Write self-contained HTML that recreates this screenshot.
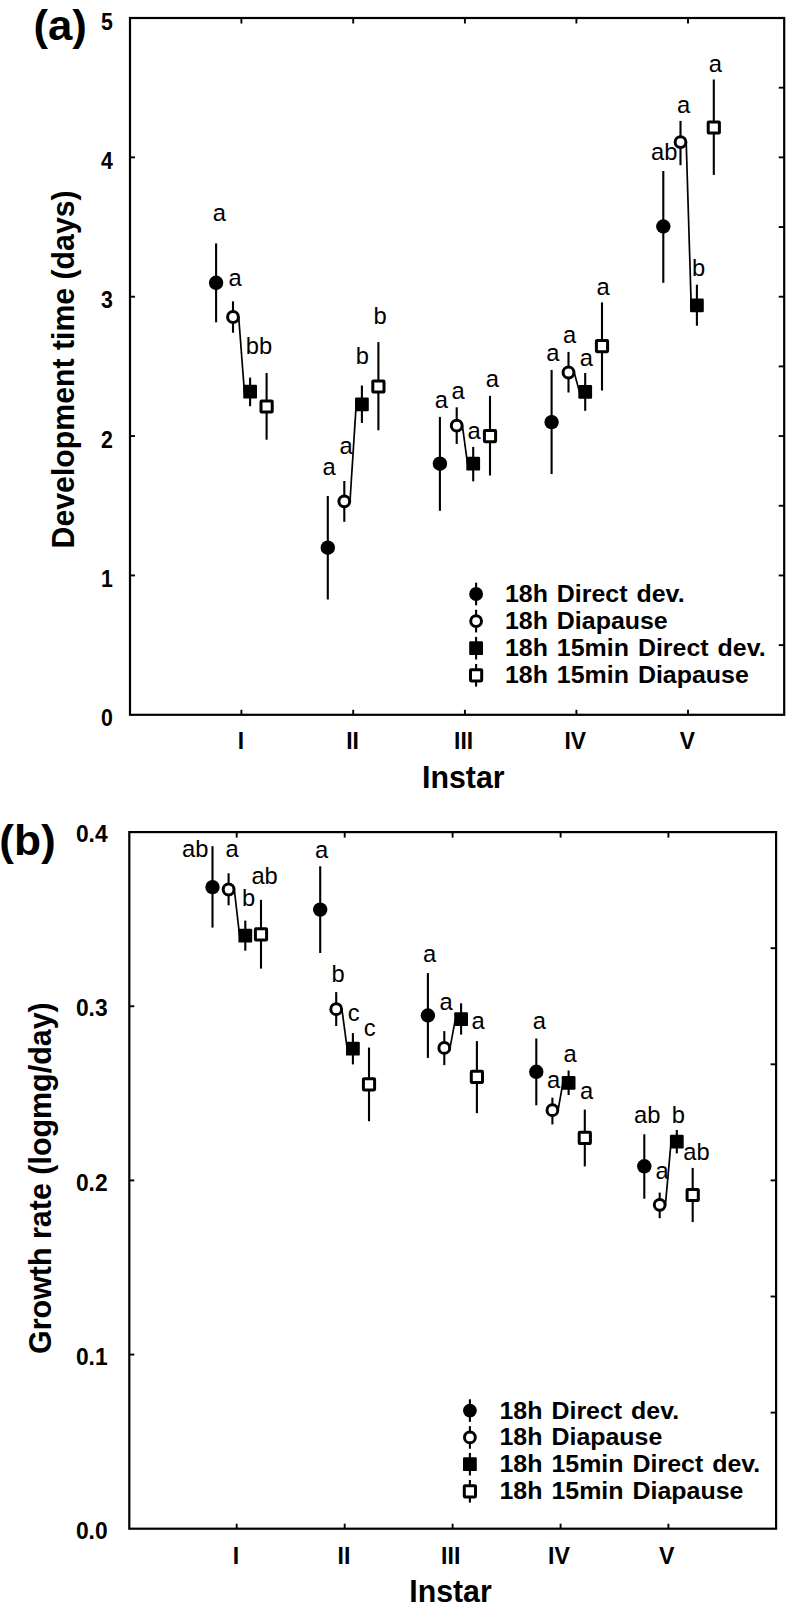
<!DOCTYPE html>
<html lang="en"><head><meta charset="utf-8"><title>Figure</title>
<style>
html,body{margin:0;padding:0;background:#fff;}
svg{display:block}
text{font-family:"Liberation Sans",sans-serif;fill:#000}
.b{font-weight:bold}
.r{font-weight:normal}
</style></head><body>
<svg width="786" height="1609" viewBox="0 0 786 1609">
<rect width="786" height="1609" fill="#fff"/>
<g id="panelA">
<rect x="130.0" y="18.0" width="654.20" height="696.80" fill="none" stroke="#000" stroke-width="2.2"/>
<line x1="130.0" y1="157.36" x2="135.0" y2="157.36" stroke="#000" stroke-width="1.9"/>
<line x1="130.0" y1="296.72" x2="135.0" y2="296.72" stroke="#000" stroke-width="1.9"/>
<line x1="130.0" y1="436.08" x2="135.0" y2="436.08" stroke="#000" stroke-width="1.9"/>
<line x1="130.0" y1="575.44" x2="135.0" y2="575.44" stroke="#000" stroke-width="1.9"/>
<line x1="784.2" y1="87.68" x2="778.7" y2="87.68" stroke="#000" stroke-width="1.9"/>
<line x1="784.2" y1="157.36" x2="778.7" y2="157.36" stroke="#000" stroke-width="1.9"/>
<line x1="784.2" y1="227.04" x2="778.7" y2="227.04" stroke="#000" stroke-width="1.9"/>
<line x1="784.2" y1="296.72" x2="778.7" y2="296.72" stroke="#000" stroke-width="1.9"/>
<line x1="784.2" y1="366.40" x2="778.7" y2="366.40" stroke="#000" stroke-width="1.9"/>
<line x1="784.2" y1="436.08" x2="778.7" y2="436.08" stroke="#000" stroke-width="1.9"/>
<line x1="784.2" y1="505.76" x2="778.7" y2="505.76" stroke="#000" stroke-width="1.9"/>
<line x1="784.2" y1="575.44" x2="778.7" y2="575.44" stroke="#000" stroke-width="1.9"/>
<line x1="784.2" y1="645.12" x2="778.7" y2="645.12" stroke="#000" stroke-width="1.9"/>
<line x1="241.4" y1="18.0" x2="241.4" y2="23.5" stroke="#000" stroke-width="1.9"/>
<line x1="241.4" y1="714.8" x2="241.4" y2="709.8" stroke="#000" stroke-width="1.9"/>
<line x1="353.2" y1="18.0" x2="353.2" y2="23.5" stroke="#000" stroke-width="1.9"/>
<line x1="353.2" y1="714.8" x2="353.2" y2="709.8" stroke="#000" stroke-width="1.9"/>
<line x1="464.9" y1="18.0" x2="464.9" y2="23.5" stroke="#000" stroke-width="1.9"/>
<line x1="464.9" y1="714.8" x2="464.9" y2="709.8" stroke="#000" stroke-width="1.9"/>
<line x1="576.4" y1="18.0" x2="576.4" y2="23.5" stroke="#000" stroke-width="1.9"/>
<line x1="576.4" y1="714.8" x2="576.4" y2="709.8" stroke="#000" stroke-width="1.9"/>
<line x1="688.0" y1="18.0" x2="688.0" y2="23.5" stroke="#000" stroke-width="1.9"/>
<line x1="688.0" y1="714.8" x2="688.0" y2="709.8" stroke="#000" stroke-width="1.9"/>
<text transform="translate(112.8,29.6)  scale(0.86,1)" text-anchor="end" font-size="24.8" class="b">5</text>
<text transform="translate(112.8,168.96)  scale(0.86,1)" text-anchor="end" font-size="24.8" class="b">4</text>
<text transform="translate(112.8,308.32)  scale(0.86,1)" text-anchor="end" font-size="24.8" class="b">3</text>
<text transform="translate(112.8,447.68)  scale(0.86,1)" text-anchor="end" font-size="24.8" class="b">2</text>
<text transform="translate(112.8,587.04)  scale(0.86,1)" text-anchor="end" font-size="24.8" class="b">1</text>
<text transform="translate(112.8,726.4)  scale(0.86,1)" text-anchor="end" font-size="24.8" class="b">0</text>
<text transform="translate(241.0,749.2)  scale(0.98,1)" text-anchor="middle" font-size="23.3" class="b">I</text>
<text transform="translate(352.5,749.2)  scale(0.98,1)" text-anchor="middle" font-size="23.3" class="b">II</text>
<text transform="translate(463.6,749.2)  scale(0.98,1)" text-anchor="middle" font-size="23.3" class="b">III</text>
<text transform="translate(575.3,749.2)  scale(0.98,1)" text-anchor="middle" font-size="23.3" class="b">IV</text>
<text transform="translate(687.3,749.2)  scale(0.98,1)" text-anchor="middle" font-size="23.3" class="b">V</text>
<text transform="translate(463.3,787.7)  scale(0.985,1)" text-anchor="middle" font-size="30.8" class="b">Instar</text>
<text transform="translate(73.5,369.4) rotate(-90) scale(0.97,1)" text-anchor="middle" font-size="31.2" class="b">Development time (days)</text>
<text transform="translate(33.4,40.1)  scale(1.03,1)" text-anchor="start" font-size="42.5" class="b">(a)</text>
<line x1="216.1" y1="243.4" x2="216.1" y2="322.3" stroke="#000" stroke-width="2.1"/>
<line x1="233" y1="301.3" x2="233" y2="332.7" stroke="#000" stroke-width="2.1"/>
<line x1="250.1" y1="377.6" x2="250.1" y2="406.2" stroke="#000" stroke-width="2.1"/>
<line x1="266.6" y1="373" x2="266.6" y2="439.7" stroke="#000" stroke-width="2.1"/>
<line x1="238.7" y1="317" x2="244.4" y2="391.7" stroke="#000" stroke-width="1.7"/>
<circle cx="216.1" cy="282.8" r="7.2" fill="#000"/>
<circle cx="233" cy="317" r="5.4" fill="#fff" stroke="#000" stroke-width="3.0"/>
<rect x="243.20" y="384.80" width="13.8" height="13.8" rx="1.2" fill="#000"/>
<rect x="261.00" y="400.90" width="11.2" height="11.2" rx="0.6" stroke-linejoin="round" fill="#fff" stroke="#000" stroke-width="3.0"/>
<line x1="327.8" y1="496" x2="327.8" y2="599.5" stroke="#000" stroke-width="2.1"/>
<line x1="344.3" y1="481" x2="344.3" y2="521.8" stroke="#000" stroke-width="2.1"/>
<line x1="361.9" y1="385.5" x2="361.9" y2="422.9" stroke="#000" stroke-width="2.1"/>
<line x1="378.4" y1="342.1" x2="378.4" y2="430.3" stroke="#000" stroke-width="2.1"/>
<line x1="350.0" y1="501.3" x2="356.2" y2="404.4" stroke="#000" stroke-width="1.7"/>
<circle cx="327.8" cy="547.7" r="7.2" fill="#000"/>
<circle cx="344.3" cy="501.3" r="5.4" fill="#fff" stroke="#000" stroke-width="3.0"/>
<rect x="355.00" y="397.50" width="13.8" height="13.8" rx="1.2" fill="#000"/>
<rect x="372.80" y="380.90" width="11.2" height="11.2" rx="0.6" stroke-linejoin="round" fill="#fff" stroke="#000" stroke-width="3.0"/>
<line x1="439.9" y1="416.9" x2="439.9" y2="510.8" stroke="#000" stroke-width="2.1"/>
<line x1="456.7" y1="407.3" x2="456.7" y2="443.9" stroke="#000" stroke-width="2.1"/>
<line x1="473.2" y1="446.9" x2="473.2" y2="481.3" stroke="#000" stroke-width="2.1"/>
<line x1="490" y1="395.8" x2="490" y2="475.5" stroke="#000" stroke-width="2.1"/>
<line x1="462.4" y1="425.6" x2="467.5" y2="463.7" stroke="#000" stroke-width="1.7"/>
<circle cx="439.9" cy="463.7" r="7.2" fill="#000"/>
<circle cx="456.7" cy="425.6" r="5.4" fill="#fff" stroke="#000" stroke-width="3.0"/>
<rect x="466.30" y="456.80" width="13.8" height="13.8" rx="1.2" fill="#000"/>
<rect x="484.40" y="430.50" width="11.2" height="11.2" rx="0.6" stroke-linejoin="round" fill="#fff" stroke="#000" stroke-width="3.0"/>
<line x1="551.6" y1="369.9" x2="551.6" y2="474" stroke="#000" stroke-width="2.1"/>
<line x1="568.5" y1="351.9" x2="568.5" y2="392.5" stroke="#000" stroke-width="2.1"/>
<line x1="585.2" y1="373" x2="585.2" y2="410.8" stroke="#000" stroke-width="2.1"/>
<line x1="602" y1="302.4" x2="602" y2="390.5" stroke="#000" stroke-width="2.1"/>
<line x1="574.2" y1="372.5" x2="579.5" y2="391.9" stroke="#000" stroke-width="1.7"/>
<circle cx="551.6" cy="422.1" r="7.2" fill="#000"/>
<circle cx="568.5" cy="372.5" r="5.4" fill="#fff" stroke="#000" stroke-width="3.0"/>
<rect x="578.30" y="385.00" width="13.8" height="13.8" rx="1.2" fill="#000"/>
<rect x="596.40" y="340.50" width="11.2" height="11.2" rx="0.6" stroke-linejoin="round" fill="#fff" stroke="#000" stroke-width="3.0"/>
<line x1="663.3" y1="171" x2="663.3" y2="282.8" stroke="#000" stroke-width="2.1"/>
<line x1="680.5" y1="120.9" x2="680.5" y2="165.2" stroke="#000" stroke-width="2.1"/>
<line x1="696.9" y1="284.7" x2="696.9" y2="325.7" stroke="#000" stroke-width="2.1"/>
<line x1="713.8" y1="79.5" x2="713.8" y2="174.9" stroke="#000" stroke-width="2.1"/>
<line x1="686.2" y1="142.1" x2="691.2" y2="305.4" stroke="#000" stroke-width="1.7"/>
<circle cx="663.3" cy="226.5" r="7.2" fill="#000"/>
<circle cx="680.5" cy="142.1" r="5.4" fill="#fff" stroke="#000" stroke-width="3.0"/>
<rect x="690.00" y="298.50" width="13.8" height="13.8" rx="1.2" fill="#000"/>
<rect x="708.20" y="121.90" width="11.2" height="11.2" rx="0.6" stroke-linejoin="round" fill="#fff" stroke="#000" stroke-width="3.0"/>
<text transform="translate(219.4,221.30) scale(0.97,1)" text-anchor="middle" font-size="24.5" class="r">a</text>
<text transform="translate(235,286.00) scale(0.97,1)" text-anchor="middle" font-size="24.5" class="r">a</text>
<text transform="translate(258.9,353.90) scale(0.97,1)" text-anchor="middle" font-size="24.5" class="r">bb</text>
<text transform="translate(329.1,475.30) scale(0.97,1)" text-anchor="middle" font-size="24.5" class="r">a</text>
<text transform="translate(346,453.50) scale(0.97,1)" text-anchor="middle" font-size="24.5" class="r">a</text>
<text transform="translate(362.3,364.30) scale(0.97,1)" text-anchor="middle" font-size="24.5" class="r">b</text>
<text transform="translate(380,324.10) scale(0.97,1)" text-anchor="middle" font-size="24.5" class="r">b</text>
<text transform="translate(441.3,408.00) scale(0.97,1)" text-anchor="middle" font-size="24.5" class="r">a</text>
<text transform="translate(458.1,398.80) scale(0.97,1)" text-anchor="middle" font-size="24.5" class="r">a</text>
<text transform="translate(474.1,439.20) scale(0.97,1)" text-anchor="middle" font-size="24.5" class="r">a</text>
<text transform="translate(492.4,387.20) scale(0.97,1)" text-anchor="middle" font-size="24.5" class="r">a</text>
<text transform="translate(552.8,361.10) scale(0.97,1)" text-anchor="middle" font-size="24.5" class="r">a</text>
<text transform="translate(569.6,342.70) scale(0.97,1)" text-anchor="middle" font-size="24.5" class="r">a</text>
<text transform="translate(586.4,366.10) scale(0.97,1)" text-anchor="middle" font-size="24.5" class="r">a</text>
<text transform="translate(603.2,294.70) scale(0.97,1)" text-anchor="middle" font-size="24.5" class="r">a</text>
<text transform="translate(664.2,159.80) scale(0.97,1)" text-anchor="middle" font-size="24.5" class="r">ab</text>
<text transform="translate(683.5,113.10) scale(0.97,1)" text-anchor="middle" font-size="24.5" class="r">a</text>
<text transform="translate(698.7,276.30) scale(0.97,1)" text-anchor="middle" font-size="24.5" class="r">b</text>
<text transform="translate(715.3,71.50) scale(0.97,1)" text-anchor="middle" font-size="24.5" class="r">a</text>
<line x1="476.1" y1="582.7" x2="476.1" y2="605.3" stroke="#000" stroke-width="2.1"/>
<line x1="476.1" y1="609.8000000000001" x2="476.1" y2="632.4" stroke="#000" stroke-width="2.1"/>
<line x1="476.1" y1="636.9000000000001" x2="476.1" y2="659.5" stroke="#000" stroke-width="2.1"/>
<line x1="476.1" y1="664.0" x2="476.1" y2="686.5999999999999" stroke="#000" stroke-width="2.1"/>
<circle cx="476.1" cy="594.0" r="6.9" fill="#000"/>
<circle cx="476.1" cy="621.1" r="5.4" fill="#fff" stroke="#000" stroke-width="3.0"/>
<rect x="469.20" y="641.30" width="13.8" height="13.8" rx="1.2" fill="#000"/>
<rect x="470.50" y="669.70" width="11.2" height="11.2" rx="0.6" stroke-linejoin="round" fill="#fff" stroke="#000" stroke-width="3.0"/>
<text transform="translate(504.9,602.0)  scale(1.031,1)" text-anchor="start" font-size="24.2" class="b" word-spacing="2.0">18h Direct dev.</text>
<text transform="translate(504.9,629.1)  scale(1.031,1)" text-anchor="start" font-size="24.2" class="b" word-spacing="2.0">18h Diapause</text>
<text transform="translate(504.9,656.2)  scale(1.031,1)" text-anchor="start" font-size="24.2" class="b" word-spacing="2.0">18h 15min Direct dev.</text>
<text transform="translate(504.9,683.3)  scale(1.031,1)" text-anchor="start" font-size="24.2" class="b" word-spacing="2.0">18h 15min Diapause</text>
</g>
<g id="panelB">
<rect x="129.3" y="832.1" width="646.80" height="696.60" fill="none" stroke="#000" stroke-width="2.2"/>
<line x1="129.3" y1="1006.25" x2="134.3" y2="1006.25" stroke="#000" stroke-width="1.9"/>
<line x1="129.3" y1="1180.40" x2="134.3" y2="1180.40" stroke="#000" stroke-width="1.9"/>
<line x1="129.3" y1="1354.55" x2="134.3" y2="1354.55" stroke="#000" stroke-width="1.9"/>
<line x1="776.1" y1="948.20" x2="770.6" y2="948.20" stroke="#000" stroke-width="1.9"/>
<line x1="776.1" y1="1064.30" x2="770.6" y2="1064.30" stroke="#000" stroke-width="1.9"/>
<line x1="776.1" y1="1180.40" x2="770.6" y2="1180.40" stroke="#000" stroke-width="1.9"/>
<line x1="776.1" y1="1296.50" x2="770.6" y2="1296.50" stroke="#000" stroke-width="1.9"/>
<line x1="776.1" y1="1412.60" x2="770.6" y2="1412.60" stroke="#000" stroke-width="1.9"/>
<line x1="236.7" y1="832.1" x2="236.7" y2="837.6" stroke="#000" stroke-width="1.9"/>
<line x1="236.7" y1="1528.7" x2="236.7" y2="1523.7" stroke="#000" stroke-width="1.9"/>
<line x1="344.7" y1="832.1" x2="344.7" y2="837.6" stroke="#000" stroke-width="1.9"/>
<line x1="344.7" y1="1528.7" x2="344.7" y2="1523.7" stroke="#000" stroke-width="1.9"/>
<line x1="452.6" y1="832.1" x2="452.6" y2="837.6" stroke="#000" stroke-width="1.9"/>
<line x1="452.6" y1="1528.7" x2="452.6" y2="1523.7" stroke="#000" stroke-width="1.9"/>
<line x1="560.6" y1="832.1" x2="560.6" y2="837.6" stroke="#000" stroke-width="1.9"/>
<line x1="560.6" y1="1528.7" x2="560.6" y2="1523.7" stroke="#000" stroke-width="1.9"/>
<line x1="668.4" y1="832.1" x2="668.4" y2="837.6" stroke="#000" stroke-width="1.9"/>
<line x1="668.4" y1="1528.7" x2="668.4" y2="1523.7" stroke="#000" stroke-width="1.9"/>
<text transform="translate(107.6,842.3)  scale(0.92,1)" text-anchor="end" font-size="24.8" class="b">0.4</text>
<text transform="translate(107.6,1016.45)  scale(0.92,1)" text-anchor="end" font-size="24.8" class="b">0.3</text>
<text transform="translate(107.6,1190.6)  scale(0.92,1)" text-anchor="end" font-size="24.8" class="b">0.2</text>
<text transform="translate(107.6,1364.75)  scale(0.92,1)" text-anchor="end" font-size="24.8" class="b">0.1</text>
<text transform="translate(107.6,1538.9)  scale(0.92,1)" text-anchor="end" font-size="24.8" class="b">0.0</text>
<text transform="translate(236.0,1563.9)  scale(0.94,1)" text-anchor="middle" font-size="24.6" class="b">I</text>
<text transform="translate(344.0,1563.9)  scale(0.94,1)" text-anchor="middle" font-size="24.6" class="b">II</text>
<text transform="translate(450.7,1563.9)  scale(0.94,1)" text-anchor="middle" font-size="24.6" class="b">III</text>
<text transform="translate(558.9,1563.9)  scale(0.94,1)" text-anchor="middle" font-size="24.6" class="b">IV</text>
<text transform="translate(666.8,1563.9)  scale(0.94,1)" text-anchor="middle" font-size="24.6" class="b">V</text>
<text transform="translate(450.5,1601.9)  scale(0.985,1)" text-anchor="middle" font-size="30.8" class="b">Instar</text>
<text transform="translate(51.4,1178.1) rotate(-90) scale(0.9756,1)" text-anchor="middle" font-size="31.2" class="b">Growth rate (logmg/day)</text>
<text transform="translate(-0.7,854.9)  scale(1.03,1)" text-anchor="start" font-size="43" class="b">(b)</text>
<line x1="212.5" y1="846.2" x2="212.5" y2="927.6" stroke="#000" stroke-width="2.1"/>
<line x1="228.6" y1="873.3" x2="228.6" y2="905.3" stroke="#000" stroke-width="2.1"/>
<line x1="245.3" y1="920.6" x2="245.3" y2="950.7" stroke="#000" stroke-width="2.1"/>
<line x1="261" y1="899.8" x2="261" y2="968.6" stroke="#000" stroke-width="2.1"/>
<line x1="234.3" y1="889.5" x2="239.6" y2="935.7" stroke="#000" stroke-width="1.7"/>
<circle cx="212.5" cy="887.1" r="7.2" fill="#000"/>
<circle cx="228.6" cy="889.5" r="5.4" fill="#fff" stroke="#000" stroke-width="3.0"/>
<rect x="238.40" y="928.80" width="13.8" height="13.8" rx="1.2" fill="#000"/>
<rect x="255.40" y="928.80" width="11.2" height="11.2" rx="0.6" stroke-linejoin="round" fill="#fff" stroke="#000" stroke-width="3.0"/>
<line x1="320.2" y1="866.3" x2="320.2" y2="953" stroke="#000" stroke-width="2.1"/>
<line x1="336.2" y1="992.1" x2="336.2" y2="1026" stroke="#000" stroke-width="2.1"/>
<line x1="352.9" y1="1033.1" x2="352.9" y2="1064.4" stroke="#000" stroke-width="2.1"/>
<line x1="369" y1="1047.6" x2="369" y2="1121.2" stroke="#000" stroke-width="2.1"/>
<line x1="341.9" y1="1009.2" x2="347.2" y2="1048.7" stroke="#000" stroke-width="1.7"/>
<circle cx="320.2" cy="909.6" r="7.2" fill="#000"/>
<circle cx="336.2" cy="1009.2" r="5.4" fill="#fff" stroke="#000" stroke-width="3.0"/>
<rect x="346.00" y="1041.80" width="13.8" height="13.8" rx="1.2" fill="#000"/>
<rect x="363.40" y="1078.70" width="11.2" height="11.2" rx="0.6" stroke-linejoin="round" fill="#fff" stroke="#000" stroke-width="3.0"/>
<line x1="427.9" y1="973.1" x2="427.9" y2="1057.9" stroke="#000" stroke-width="2.1"/>
<line x1="444.3" y1="1031.1" x2="444.3" y2="1065.1" stroke="#000" stroke-width="2.1"/>
<line x1="461.1" y1="1003.3" x2="461.1" y2="1034.6" stroke="#000" stroke-width="2.1"/>
<line x1="476.9" y1="1041.1" x2="476.9" y2="1113.2" stroke="#000" stroke-width="2.1"/>
<line x1="450.0" y1="1047.9" x2="455.4" y2="1019.2" stroke="#000" stroke-width="1.7"/>
<circle cx="427.9" cy="1015.5" r="7.2" fill="#000"/>
<circle cx="444.3" cy="1047.9" r="5.4" fill="#fff" stroke="#000" stroke-width="3.0"/>
<rect x="454.20" y="1012.30" width="13.8" height="13.8" rx="1.2" fill="#000"/>
<rect x="471.30" y="1071.30" width="11.2" height="11.2" rx="0.6" stroke-linejoin="round" fill="#fff" stroke="#000" stroke-width="3.0"/>
<line x1="536.3" y1="1038.5" x2="536.3" y2="1105.3" stroke="#000" stroke-width="2.1"/>
<line x1="552.4" y1="1097.7" x2="552.4" y2="1124.4" stroke="#000" stroke-width="2.1"/>
<line x1="568.6" y1="1070.5" x2="568.6" y2="1095" stroke="#000" stroke-width="2.1"/>
<line x1="584.8" y1="1109.6" x2="584.8" y2="1166.4" stroke="#000" stroke-width="2.1"/>
<line x1="558.1" y1="1110.2" x2="562.9" y2="1082.8" stroke="#000" stroke-width="1.7"/>
<circle cx="536.3" cy="1071.8" r="7.2" fill="#000"/>
<circle cx="552.4" cy="1110.2" r="5.4" fill="#fff" stroke="#000" stroke-width="3.0"/>
<rect x="561.70" y="1075.90" width="13.8" height="13.8" rx="1.2" fill="#000"/>
<rect x="579.20" y="1132.30" width="11.2" height="11.2" rx="0.6" stroke-linejoin="round" fill="#fff" stroke="#000" stroke-width="3.0"/>
<line x1="644.3" y1="1134.3" x2="644.3" y2="1198.7" stroke="#000" stroke-width="2.1"/>
<line x1="659.7" y1="1192.6" x2="659.7" y2="1218.2" stroke="#000" stroke-width="2.1"/>
<line x1="676.8" y1="1130" x2="676.8" y2="1153.4" stroke="#000" stroke-width="2.1"/>
<line x1="692.7" y1="1167.9" x2="692.7" y2="1222.1" stroke="#000" stroke-width="2.1"/>
<line x1="665.4" y1="1204.8" x2="671.1" y2="1141.7" stroke="#000" stroke-width="1.7"/>
<circle cx="644.3" cy="1166.3" r="7.2" fill="#000"/>
<circle cx="659.7" cy="1204.8" r="5.4" fill="#fff" stroke="#000" stroke-width="3.0"/>
<rect x="669.90" y="1134.80" width="13.8" height="13.8" rx="1.2" fill="#000"/>
<rect x="687.10" y="1189.40" width="11.2" height="11.2" rx="0.6" stroke-linejoin="round" fill="#fff" stroke="#000" stroke-width="3.0"/>
<text transform="translate(195.3,857.30) scale(0.97,1)" text-anchor="middle" font-size="24.5" class="r">ab</text>
<text transform="translate(232.2,857.30) scale(0.97,1)" text-anchor="middle" font-size="24.5" class="r">a</text>
<text transform="translate(248.6,905.60) scale(0.97,1)" text-anchor="middle" font-size="24.5" class="r">b</text>
<text transform="translate(264.6,884.10) scale(0.97,1)" text-anchor="middle" font-size="24.5" class="r">ab</text>
<text transform="translate(321.7,858.20) scale(0.97,1)" text-anchor="middle" font-size="24.5" class="r">a</text>
<text transform="translate(338,981.60) scale(0.97,1)" text-anchor="middle" font-size="24.5" class="r">b</text>
<text transform="translate(353.7,1021.30) scale(0.97,1)" text-anchor="middle" font-size="24.5" class="r">c</text>
<text transform="translate(369.7,1036.20) scale(0.97,1)" text-anchor="middle" font-size="24.5" class="r">c</text>
<text transform="translate(429.5,961.90) scale(0.97,1)" text-anchor="middle" font-size="24.5" class="r">a</text>
<text transform="translate(446.2,1010.00) scale(0.97,1)" text-anchor="middle" font-size="24.5" class="r">a</text>
<text transform="translate(478,1028.80) scale(0.97,1)" text-anchor="middle" font-size="24.5" class="r">a</text>
<text transform="translate(539.4,1028.50) scale(0.97,1)" text-anchor="middle" font-size="24.5" class="r">a</text>
<text transform="translate(553.5,1087.60) scale(0.97,1)" text-anchor="middle" font-size="24.5" class="r">a</text>
<text transform="translate(570.1,1062.10) scale(0.97,1)" text-anchor="middle" font-size="24.5" class="r">a</text>
<text transform="translate(586.5,1098.80) scale(0.97,1)" text-anchor="middle" font-size="24.5" class="r">a</text>
<text transform="translate(647.3,1123.10) scale(0.97,1)" text-anchor="middle" font-size="24.5" class="r">ab</text>
<text transform="translate(678.4,1123.10) scale(0.97,1)" text-anchor="middle" font-size="24.5" class="r">b</text>
<text transform="translate(662,1179.30) scale(0.97,1)" text-anchor="middle" font-size="24.5" class="r">a</text>
<text transform="translate(696.5,1160.20) scale(0.97,1)" text-anchor="middle" font-size="24.5" class="r">ab</text>
<line x1="469.9" y1="1399.3" x2="469.9" y2="1421.8999999999999" stroke="#000" stroke-width="2.1"/>
<line x1="469.9" y1="1426.1000000000001" x2="469.9" y2="1448.7" stroke="#000" stroke-width="2.1"/>
<line x1="469.9" y1="1452.9" x2="469.9" y2="1475.5" stroke="#000" stroke-width="2.1"/>
<line x1="469.9" y1="1480.0" x2="469.9" y2="1502.6" stroke="#000" stroke-width="2.1"/>
<circle cx="469.9" cy="1410.6" r="6.9" fill="#000"/>
<circle cx="469.9" cy="1437.4" r="5.4" fill="#fff" stroke="#000" stroke-width="3.0"/>
<rect x="463.00" y="1457.30" width="13.8" height="13.8" rx="1.2" fill="#000"/>
<rect x="464.30" y="1485.70" width="11.2" height="11.2" rx="0.6" stroke-linejoin="round" fill="#fff" stroke="#000" stroke-width="3.0"/>
<text transform="translate(499.5,1418.6)  scale(1.031,1)" text-anchor="start" font-size="24.2" class="b" word-spacing="2.0">18h Direct dev.</text>
<text transform="translate(499.5,1445.4)  scale(1.031,1)" text-anchor="start" font-size="24.2" class="b" word-spacing="2.0">18h Diapause</text>
<text transform="translate(499.5,1472.2)  scale(1.031,1)" text-anchor="start" font-size="24.2" class="b" word-spacing="2.0">18h 15min Direct dev.</text>
<text transform="translate(499.5,1499.3)  scale(1.031,1)" text-anchor="start" font-size="24.2" class="b" word-spacing="2.0">18h 15min Diapause</text>
</g>
</svg></body></html>
